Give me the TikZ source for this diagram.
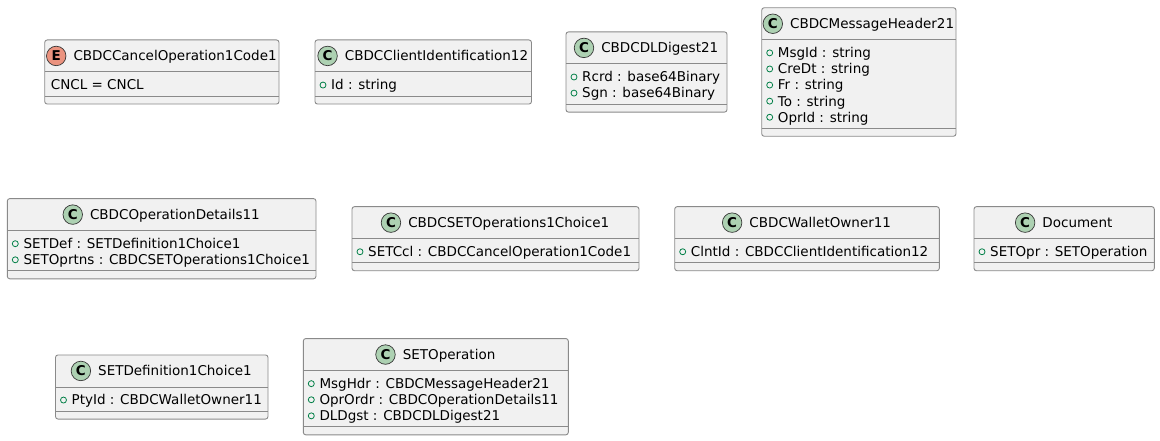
\documentclass[tikz,border=0pt]{standalone}
\usepackage{fontspec}
\setmainfont{DejaVu Sans}
\usetikzlibrary{positioning,calc}

\definecolor{boxfill}{HTML}{F1F1F1}
\definecolor{boxline}{HTML}{8A8A8A}
\definecolor{badgeline}{HTML}{383838}
\definecolor{classfill}{HTML}{ADD1B2}
\definecolor{enumfill}{HTML}{EB937F}
\definecolor{visgreen}{HTML}{038048}

\tikzset{
  classbox/.style={draw=boxline, fill=boxfill, line width=0.9pt, rounded corners=2.5pt, inner sep=0pt, outer sep=0pt},
  sepline/.style={draw=boxline, line width=0.9pt},
  titletext/.style={inner sep=0pt, text height=9.8pt, text depth=0pt, font=\fontsize{13.5}{16}\selectfont},
  attrtext/.style={inner sep=0pt, anchor=west, text height=9.8pt, text depth=0pt, font=\fontsize{13.5}{16}\selectfont},
  badge/.style={circle, draw=badgeline, line width=0.7pt, minimum size=19.5pt, inner sep=0pt, font=\bfseries\fontsize{13.5}{13.5}\selectfont},
  kindC/.style={fill=classfill},
  kindE/.style={fill=enumfill},
  visicon/.style={circle, draw=visgreen, line width=0.8pt, minimum size=6pt, inner sep=0pt},
}

% #1 name, #2/#3 centre, #4 width, #5 number of fields, #6 C or E, #7 title, #8 fields
\newcommand{\umlclass}[8]{%
  \node (#1) [classbox, minimum width=#4, minimum height=48+16.1*#5] at (#2,#3) {};
  \draw [sepline] ([yshift=-32pt]#1.north west) -- ([yshift=-32pt]#1.north east);
  \draw [sepline] ([yshift=8pt]#1.south west) -- ([yshift=8pt]#1.south east);
  \node (#1-title) [titletext] at ($(#1.north)+(13.25,16)$) {#7};
  \node (#1-badge) [badge, kind#6, left=7pt of #1-title] {#6};
  \foreach \attr [count=\i] in {#8} {
    \if E#6
      \node (#1-a\i) [attrtext] at ($(#1.north west)+(6,29+16.1*\i)$) {\attr};
    \else
      \node (#1-v\i) [visicon] at ($(#1.north west)+(8,29+16.1*\i)$) {};
      \node (#1-a\i) [attrtext] at ($(#1.north west)+(16,29+16.1*\i)$) {\attr};
    \fi
  }%
}

\begin{document}
\begin{tikzpicture}[x=1pt, y=-1pt]
  \useasboundingbox (0,0) rectangle (1160,441);

  % first row
  \umlclass{cancel}{161.85}{72}{234.3}{1}{E}{CBDCCancelOperation1Code1}{CNCL = CNCL}
  \umlclass{clientid}{423.25}{72}{216.5}{1}{C}{CBDCClientIdentification12}{Id : string}
  \umlclass{digest}{646.5}{72}{161}{2}{C}{CBDCDLDigest21}{Rcrd : base64Binary, Sgn : base64Binary}
  \umlclass{msghdr}{858.85}{72}{194.3}{5}{C}{CBDCMessageHeader21}{MsgId : string, CreDt : string, Fr : string, To : string, OprId : string}

  % second row
  \umlclass{oprdet}{161.65}{238.7}{308.7}{2}{C}{CBDCOperationDetails11}{SETDef : SETDefinition1Choice1, SETOprtns : CBDCSETOperations1Choice1}
  \umlclass{setops}{495.5}{238.7}{287}{1}{C}{CBDCSETOperations1Choice1}{SETCcl : CBDCCancelOperation1Code1}
  \umlclass{wallet}{807}{238.7}{264.6}{1}{C}{CBDCWalletOwner11}{ClntId : CBDCClientIdentification12}
  \umlclass{document}{1064.15}{238.7}{180.3}{1}{C}{Document}{SETOpr : SETOperation}

  % third row
  \umlclass{setdef}{161.75}{387}{212.5}{1}{C}{SETDefinition1Choice1}{PtyId : CBDCWalletOwner11}
  \umlclass{setopr}{435.8}{386.7}{265}{3}{C}{SETOperation}{MsgHdr : CBDCMessageHeader21, OprOrdr : CBDCOperationDetails11, DLDgst : CBDCDLDigest21}
\end{tikzpicture}
\end{document}
